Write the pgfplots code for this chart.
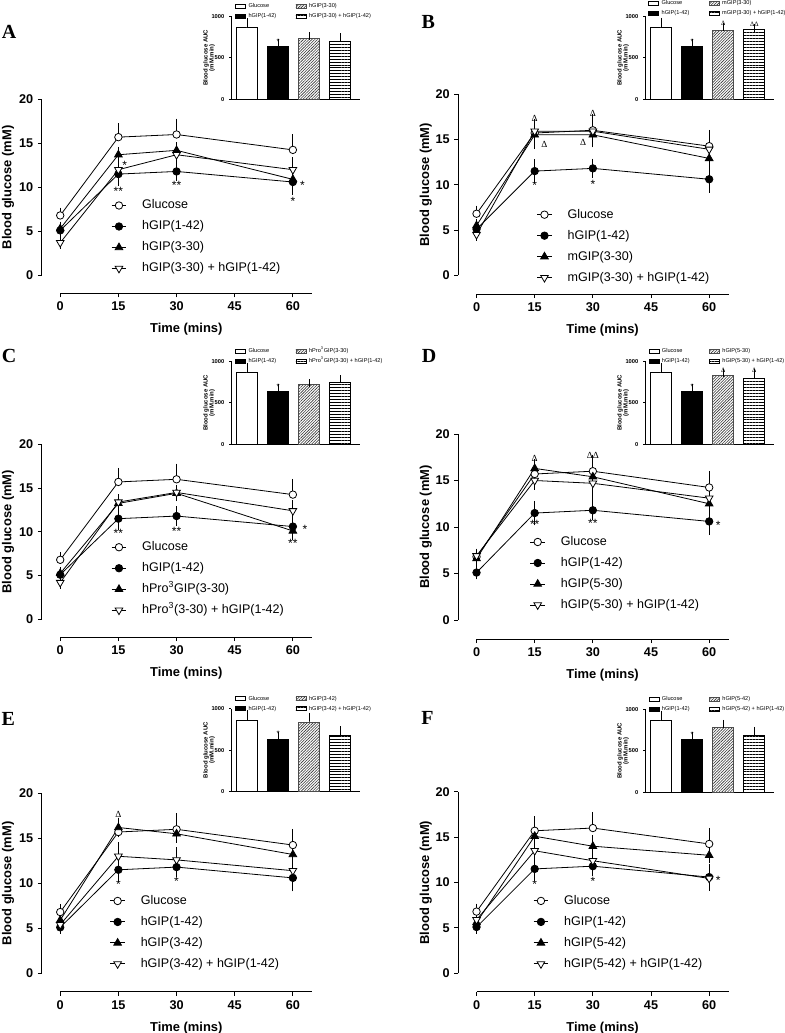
\documentclass[border=0pt]{standalone}
\usepackage{fontspec}
\setmainfont{Liberation Sans}
\newfontfamily\seriff{Liberation Serif}
\usepackage{pgfplots}
\pgfplotsset{compat=1.18}
\usetikzlibrary{patterns.meta}

\newcommand{\fs}[1]{\fontsize{#1}{#1}\selectfont}

\tikzset{
  ast/.style={font=\fs{9}, inner sep=0pt, yshift=-2.2pt},
  dl/.style={font=\seriff\fs{7}, inner sep=0pt},
  iast/.style={font=\fs{6}, inner sep=0pt, yshift=-1.2pt},
  idl/.style={font=\seriff\fs{5}, inner sep=0pt},
  letter/.style={font=\seriff\bfseries\fs{15}, inner sep=0pt},
}

\pgfplotsset{
  eb/.style={/pgfplots/error bars/y dir=#1, /pgfplots/error bars/y explicit,
    /pgfplots/error bars/error bar style={line width=0.6pt},
    /pgfplots/error bars/error mark options={mark size=2.6pt, line width=0.6pt}},
  sA/.style={black, line width=0.6pt, mark=*, mark size=2.8pt, mark options={fill=white}, eb=plus},
  sB/.style={black, line width=0.6pt, mark=*, mark size=2.8pt, mark options={fill=black}, eb=both},
  sC/.style={black, line width=0.6pt, mark=triangle*, mark size=3.3pt, mark options={fill=black}, eb=both},
  sD/.style={black, line width=0.6pt, mark=triangle*, mark size=3.3pt, mark options={fill=white, rotate=180}, eb=both},
  main/.style={scale only axis, width=202.7pt, anchor=north west,
    xmin=-4.7, xmax=65, ymin=-2.05, ymax=20,
    axis x line*=bottom, axis y line*=left, axis line style={draw=none},
    xtick={0,15,30,45,60}, ytick={0,5,10,15,20},
    tick align=outside, major tick length=3pt, tick style={black, line width=0.75pt},
    /pgf/number format/assume math mode=true,
    tick label style={font=\fs{9.5}\bfseries},
    label style={font=\fs{9.7}\bfseries},
    xlabel={Time (mins)}, ylabel={Blood glucose (mM)},
    xlabel style={at={(0.534,0)}, anchor=center, yshift=-27pt},
    ylabel style={anchor=center},
    clip=false,
    legend cell align=left,
    legend image code/.code={%
      \draw[##1, mark=none, line width=0.7pt] (0pt,0pt) -- (11pt,0pt);
      \draw[##1] plot coordinates {(5.5pt,0pt)};},
    legend style={draw=none, fill=none, inner sep=0pt, anchor=north west, row sep=6.75pt, font=\fs{9.4},
      nodes={inner sep=0pt, text height=7pt, text depth=2pt},
      /tikz/every odd column/.append style={column sep=11.5pt}},
  },
  inset/.style={scale only axis, width=97pt, height=62.4pt, anchor=south west,
    xmin=0.486, xmax=4.643, ymin=0, ymax=1000,
    axis x line*=bottom, axis y line*=left, axis line style={-, line width=0.5pt},
    xtick=\empty, ytick={0,500,1000}, tick align=outside, major tick length=1.5pt,
    tick style={black, line width=0.5pt},
    /pgf/number format/assume math mode=true, /pgf/number format/1000 sep={},
    tick label style={font=\fs{4.3}\bfseries},
    ylabel={Blood glucose AUC\\(mM.min)},
    ylabel style={align=center, font=\fs{4.5}\bfseries, at={(-0.17,0.5)}, anchor=center},
    clip=false,
    legend columns=2, transpose legend, legend cell align=left,
    legend style={draw=none, fill=none, inner sep=0pt, anchor=south west, font=\fs{4.2}, row sep=3.5pt,
      nodes={inner sep=0pt, text height=3pt, text depth=1pt},
      /tikz/every odd column/.append style={column sep=2.2pt},
      /tikz/every even column/.append style={column sep=14.5pt}},
  },
  barleg/.style={legend image code/.code={\draw[##1, line width=0.4pt] (0pt,-1.5pt) rectangle (7.5pt,1.5pt);}},
  bebar/.style={/pgfplots/error bars/y dir=plus, /pgfplots/error bars/y explicit,
    /pgfplots/error bars/error bar style={line width=0.5pt},
    /pgfplots/error bars/error mark options={mark size=3pt, line width=0.5pt}},
  b1/.style={ybar, bar width=15.75pt, bar shift=0pt, draw=black, line width=0.5pt, fill=white, barleg, bebar},
  b2/.style={ybar, bar width=15.75pt, bar shift=0pt, draw=black, line width=0.5pt, fill=black, barleg, bebar},
  b3/.style={ybar, bar width=15.75pt, bar shift=0pt, draw=black!70, line width=0.5pt,
    pattern={Lines[angle=45,distance=1.5pt,line width=0.45pt]}, pattern color=black!80, barleg, bebar},
  b4/.style={ybar, bar width=15.75pt, bar shift=0pt, draw=black, line width=0.5pt,
    pattern={Lines[angle=0,distance=2.2pt,line width=0.7pt]}, barleg, bebar},
}

\newcommand{\ctrl}{%
  \addplot[sA] coordinates {(0,6.8) +- (0,0.5) (15,15.7) +- (0,1.2) (30,16.0) +- (0,1.4) (60,14.25) +- (0,1.4)};
  \addlegendentry{Glucose}
  \addplot[sB] coordinates {(0,5.1) +- (0,0.35) (15,11.5) +- (0,0.95) (30,11.8) +- (0,0.7) (60,10.6) +- (0,1.1)};
  \addlegendentry{hGIP(1-42)}
}
\newcommand{\axlines}{%
  \draw[line width=0.75pt] (axis cs:0,-2.05) -- (axis cs:65,-2.05);
  \draw[line width=0.75pt] (axis cs:-4.7,0) -- (axis cs:-4.7,20);
}
\newcommand{\ictrl}{%
  \addplot[b1] coordinates {(1,860) +- (0,70)};
  \addlegendentry{Glucose}
  \addplot[b2] coordinates {(2,632) +- (0,42)};
  \addlegendentry{hGIP(1-42)}
  \node[iast] at (axis cs:2,712) {*};
}

\begin{document}
\begin{tikzpicture}
\useasboundingbox (0,0) rectangle (588.75pt,-774.75pt);

\node[letter] at ({9*0.75pt},{-31.7*0.75pt}) {A};
\node[letter] at ({428.3*0.75pt},{-21.7*0.75pt}) {B};
\node[letter] at ({9.2*0.75pt},{-355.5*0.75pt}) {C};
\node[letter] at ({429*0.75pt},{-356*0.75pt}) {D};
\node[letter] at ({8.3*0.75pt},{-719*0.75pt}) {E};
\node[letter] at ({427.5*0.75pt},{-718.3*0.75pt}) {F};

% ---------- A ----------
\begin{axis}[main, height=145.5pt, at={({42*0.75pt},{-99.3*0.75pt})},
  ylabel style={at={(-0.126,0.546)}}, legend style={at={(0.255,0.485)}}]
\axlines
\ctrl
\addplot[sC] coordinates {(0,5.3) +- (0,0.4) (15,13.7) +- (0,0.5) (30,14.2) +- (0,0.5) (60,10.9) +- (0,0.6)};
\addlegendentry{hGIP(3-30)}
\addplot[sD] coordinates {(0,3.7) +- (0,0.3) (15,12.0) +- (0,1.0) (30,13.7) +- (0,0.4) (60,12.0) +- (0,1.0)};
\addlegendentry{hGIP(3-30) + hGIP(1-42)}
\node[ast] at (axis cs:15,9.9) {**};
\node[ast] at (axis cs:30,10.5) {**};
\node[ast] at (axis cs:62.5,10.5) {*};
\node[ast] at (axis cs:60,8.75) {*};
\node[ast] at (axis cs:16.6,12.8) {*};
\end{axis}
\begin{axis}[inset, at={({231*0.75pt},{-99.3*0.75pt})}, legend style={at={(0.03,0.962)}}]
\ictrl
\addplot[b3] coordinates {(3,732) +- (0,28)};
\addlegendentry{hGIP(3-30)}
\addplot[b4] coordinates {(4,700) +- (0,48)};
\addlegendentry{hGIP(3-30) + hGIP(1-42)}
\end{axis}

% ---------- B ----------
\begin{axis}[main, height=150pt, at={({458.3*0.75pt},{-94*0.75pt})},
  ylabel style={at={(-0.12,0.546)}}, legend style={at={(0.289,0.428)}}]
\axlines
\ctrl
\addplot[sC] coordinates {(0,5.5) +- (0,0.3) (15,15.5) +- (0,1.2) (30,15.5) +- (0,1.0) (60,12.9) +- (0,1.2)};
\addlegendentry{mGIP(3-30)}
\addplot[sD] coordinates {(0,4.5) +- (0,0.3) (15,15.9) +- (0,0.8) (30,15.9) +- (0,0.6) (60,13.9) +- (0,0.6)};
\addlegendentry{mGIP(3-30) + hGIP(1-42)}
\node[dl] at (axis cs:15,17.3) {Δ};
\node[dl] at (axis cs:17.5,14.4) {Δ};
\node[dl] at (axis cs:30,17.9) {Δ};
\node[dl] at (axis cs:27.5,14.7) {Δ};
\node[ast] at (axis cs:15,10.2) {*};
\node[ast] at (axis cs:30,10.4) {*};
\end{axis}
\begin{axis}[inset, at={({645*0.75pt},{-99.3*0.75pt})}, legend style={at={(0.023,0.995)}}]
\ictrl
\addplot[b3] coordinates {(3,826) +- (0,46)};
\addlegendentry{mGIP(3-30)}
\addplot[b4] coordinates {(4,840) +- (0,20)};
\addlegendentry{mGIP(3-30) + hGIP(1-42)}
\node[idl] at (axis cs:3,915) {Δ};
\node[idl] at (axis cs:4,900) {ΔΔ};
\end{axis}

% ---------- C ----------
\begin{axis}[main, height=144.7pt, at={({42*0.75pt},{-444.3*0.75pt})},
  ylabel style={at={(-0.126,0.546)}}, legend style={at={(0.255,0.499)}}]
\axlines
\ctrl
\addplot[sC] coordinates {(0,5.25) +- (0,0.3) (15,13.25) +- (0,0.4) (30,14.4) +- (0,0.5) (60,10.1) +- (0,0.5)};
\addlegendentry{hPro\textsuperscript{3}GIP(3-30)}
\addplot[sD] coordinates {(0,4.2) +- (0,0.3) (15,13.4) +- (0,0.5) (30,14.5) +- (0,0.5) (60,12.4) +- (0,0.8)};
\addlegendentry{hPro\textsuperscript{3}(3-30) + hGIP(1-42)}
\node[ast] at (axis cs:15,10.2) {**};
\node[ast] at (axis cs:30,10.4) {**};
\node[ast] at (axis cs:63.1,10.67) {*};
\node[ast] at (axis cs:60,9.07) {**};
\end{axis}
\begin{axis}[inset, at={({231*0.75pt},{-444.3*0.75pt})}, legend style={at={(0.03,0.962)}}]
\ictrl
\addplot[b3] coordinates {(3,720) +- (0,12)};
\addlegendentry{hPro\textsuperscript{3}GIP(3-30)}
\addplot[b4] coordinates {(4,740) +- (0,40)};
\addlegendentry{hPro\textsuperscript{3}GIP(3-30) + hGIP(1-42)}
\end{axis}

% ---------- D ----------
\begin{axis}[main, height=153.8pt, at={({458.3*0.75pt},{-434*0.75pt})},
  ylabel style={at={(-0.12,0.546)}}, legend style={at={(0.264,0.504)}}]
\axlines
\ctrl
\addplot[sC] coordinates {(0,6.6) +- (0,0.4) (15,16.3) +- (0,0.5) (30,15.4) +- (0,0.9) (60,12.5) +- (0,0.7)};
\addlegendentry{hGIP(5-30)}
\addplot[sD] coordinates {(0,6.9) +- (0,0.3) (15,15.0) +- (0,0.6) (30,14.7) +- (0,1.4) (60,13.1) +- (0,0.6)};
\addlegendentry{hGIP(5-30) + hGIP(1-42)}
\node[dl] at (axis cs:15,17.4) {Δ};
\node[dl] at (axis cs:30,17.7) {ΔΔ};
\node[ast] at (axis cs:15,10.6) {**};
\node[ast] at (axis cs:30,10.75) {**};
\node[ast] at (axis cs:62.3,10.5) {*};
\end{axis}
\begin{axis}[inset, at={({645*0.75pt},{-444.3*0.75pt})}, legend style={at={(0.025,0.962)}}]
\ictrl
\addplot[b3] coordinates {(3,832) +- (0,20)};
\addlegendentry{hGIP(5-30)}
\addplot[b4] coordinates {(4,792) +- (0,60)};
\addlegendentry{hGIP(5-30) + hGIP(1-42)}
\node[idl] at (axis cs:3,895) {Δ};
\node[idl] at (axis cs:4,895) {Δ};
\end{axis}

% ---------- E ----------
\begin{axis}[main, height=148.8pt, at={({42*0.75pt},{-793.3*0.75pt})},
  ylabel style={at={(-0.126,0.546)}}, legend style={at={(0.25,0.489)}}]
\axlines
\ctrl
\addplot[sC] coordinates {(0,5.9) +- (0,0.4) (15,16.2) +- (0,0.7) (30,15.5) +- (0,0.6) (60,13.2) +- (0,0.5)};
\addlegendentry{hGIP(3-42)}
\addplot[sD] coordinates {(0,5.4) +- (0,0.4) (15,13.0) +- (0,1.2) (30,12.6) +- (0,1.0) (60,11.4) +- (0,0.6)};
\addlegendentry{hGIP(3-42) + hGIP(1-42)}
\node[dl] at (axis cs:15,17.6) {Δ};
\node[ast] at (axis cs:15,10.2) {*};
\node[ast] at (axis cs:30,10.55) {*};
\end{axis}
\begin{axis}[inset, at={({231*0.75pt},{-791.7*0.75pt})}, legend style={at={(0.03,0.962)}}]
\ictrl
\addplot[b3] coordinates {(3,828) +- (0,72)};
\addlegendentry{hGIP(3-42)}
\addplot[b4] coordinates {(4,680) +- (0,60)};
\addlegendentry{hGIP(3-42) + hGIP(1-42)}
\end{axis}

% ---------- F ----------
\begin{axis}[main, height=150.2pt, at={({458.3*0.75pt},{-791.7*0.75pt})},
  ylabel style={at={(-0.12,0.546)}}, legend style={at={(0.276,0.486)}}]
\axlines
\ctrl
\addplot[sC] coordinates {(0,5.6) +- (0,0.4) (15,15.1) +- (0,0.9) (30,14.0) +- (0,0.8) (60,13.0) +- (0,0.5)};
\addlegendentry{hGIP(5-42)}
\addplot[sD] coordinates {(0,5.9) +- (0,0.4) (15,13.5) +- (0,0.6) (30,12.4) +- (0,0.8) (60,10.45) +- (0,0.5)};
\addlegendentry{hGIP(5-42) + hGIP(1-42)}
\node[ast] at (axis cs:15,10.1) {*};
\node[ast] at (axis cs:30,10.45) {*};
\node[ast] at (axis cs:62.3,10.6) {*};
\end{axis}
\begin{axis}[inset, at={({645*0.75pt},{-792.3*0.75pt})}, legend style={at={(0.025,0.962)}}]
\ictrl
\addplot[b3] coordinates {(3,779) +- (0,44)};
\addlegendentry{hGIP(5-42)}
\addplot[b4] coordinates {(4,679) +- (0,60)};
\addlegendentry{hGIP(5-42) + hGIP(1-42)}
\end{axis}
\end{tikzpicture}
\end{document}
